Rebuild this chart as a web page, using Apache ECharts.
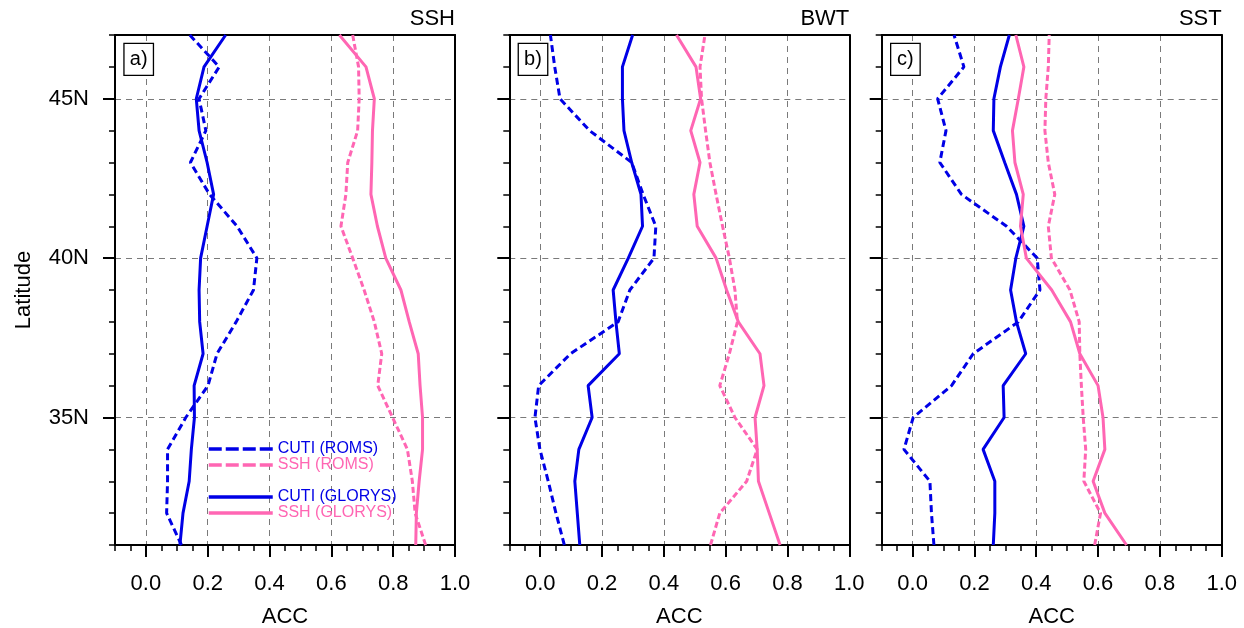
<!DOCTYPE html>
<html style="height: 100%">
<head>
<meta charset="utf-8">
</head>
<body style="height: 100%; margin: 0">
<div id="container" style="width: 1244px; height: 628px"></div>
<script type="text/javascript" src="https://cdn.jsdelivr.net/npm/echarts@6/dist/echarts.min.js"></script>
<script type="text/javascript">
// latitude of each point, south to north
var lats = [31, 32, 33, 34, 35, 36, 37, 38, 39, 40, 41, 42, 43, 44, 45, 46, 47];
var accTicks = [0, 0.2, 0.4, 0.6, 0.8, 1.0];
var latTicks = [35, 40, 45];

// a) SSH
var cutiRomsA   = [0.115, 0.067, 0.070, 0.070, 0.129, 0.201, 0.230, 0.292, 0.348, 0.359, 0.295, 0.206, 0.144, 0.194, 0.172, 0.237, 0.142];
var cutiGlorysA = [0.110, 0.120, 0.140, 0.147, 0.157, 0.156, 0.185, 0.174, 0.172, 0.177, 0.198, 0.219, 0.198, 0.172, 0.163, 0.188, 0.258];
var sshRomsA    = [0.905, 0.871, 0.862, 0.846, 0.798, 0.750, 0.763, 0.739, 0.706, 0.669, 0.631, 0.647, 0.653, 0.685, 0.690, 0.688, 0.669];
var sshGlorysA  = [0.873, 0.875, 0.884, 0.895, 0.895, 0.887, 0.881, 0.852, 0.825, 0.776, 0.749, 0.728, 0.731, 0.733, 0.739, 0.712, 0.626];

// b) BWT
var cutiRomsB   = [0.078, 0.051, 0.026, -0.001, -0.017, -0.005, 0.098, 0.252, 0.290, 0.368, 0.374, 0.333, 0.296, 0.160, 0.064, 0.047, 0.033];
var cutiGlorysB = [0.128, 0.120, 0.112, 0.125, 0.168, 0.155, 0.256, 0.245, 0.236, 0.285, 0.331, 0.326, 0.296, 0.271, 0.266, 0.266, 0.299];
var bwtRomsB    = [0.551, 0.581, 0.668, 0.702, 0.630, 0.581, 0.612, 0.638, 0.630, 0.612, 0.590, 0.569, 0.549, 0.535, 0.522, 0.517, 0.533];
var bwtGlorysB  = [0.776, 0.741, 0.706, 0.702, 0.695, 0.724, 0.711, 0.641, 0.603, 0.569, 0.508, 0.497, 0.517, 0.487, 0.519, 0.504, 0.441];

// c) SST
var cutiRomsC   = [0.069, 0.061, 0.056, -0.028, 0.002, 0.126, 0.196, 0.342, 0.412, 0.403, 0.304, 0.158, 0.088, 0.108, 0.081, 0.166, 0.134];
var cutiGlorysC = [0.261, 0.266, 0.266, 0.228, 0.296, 0.293, 0.366, 0.336, 0.317, 0.334, 0.360, 0.336, 0.298, 0.261, 0.263, 0.284, 0.313];
var sstRomsC    = [0.589, 0.608, 0.554, 0.560, 0.552, 0.546, 0.541, 0.539, 0.509, 0.449, 0.439, 0.460, 0.439, 0.428, 0.431, 0.439, 0.442];
var sstGlorysC  = [0.692, 0.622, 0.584, 0.622, 0.616, 0.600, 0.541, 0.511, 0.450, 0.368, 0.349, 0.358, 0.331, 0.323, 0.342, 0.360, 0.334];

var blue = '#0000e6';
var pink = '#ff66b3';
var font = '"Liberation Sans", Helvetica, Arial, sans-serif';

var panels = [
    {left: 115,   tag: 'a)', name: 'SSH', cr: cutiRomsA, cg: cutiGlorysA, vr: sshRomsA, vg: sshGlorysA},
    {left: 509.3, tag: 'b)', name: 'BWT', cr: cutiRomsB, cg: cutiGlorysB, vr: bwtRomsB, vg: bwtGlorysB},
    {left: 881.7, tag: 'c)', name: 'SST', cr: cutiRomsC, cg: cutiGlorysC, vr: sstRomsC, vg: sstGlorysC}
];
var panelW = 340, panelTop = 35, panelH = 510;

function pairs(vals) {
    return vals.map(function (v, i) { return [v, lats[i]]; });
}

var frame = {show: true, onZero: false, lineStyle: {color: '#000', width: 2}};
var grid = [], xAxis = [], yAxis = [], series = [], title = [], graphic = [];

panels.forEach(function (p, i) {
    grid.push({left: p.left, top: panelTop, width: panelW, height: panelH, show: false,
               containLabel: false, outerBoundsMode: 'none'});

    // minor ticks + bottom frame
    xAxis.push({
        type: 'value', gridIndex: i, min: -0.1, max: 1.0, interval: 0.05, position: 'bottom',
        axisLine: frame,
        axisTick: {show: true, inside: false, length: 6, lineStyle: {color: '#000', width: 1.5}},
        axisLabel: {show: false}, splitLine: {show: false}
    });
    // major ticks, labels, grid lines
    xAxis.push({
        type: 'value', gridIndex: i, min: -0.1, max: 1.0, position: 'bottom',
        name: 'ACC', nameLocation: 'middle', nameGap: 61,
        nameTextStyle: {fontSize: 22, color: '#000', fontFamily: font},
        axisLine: {show: false, onZero: false},
        axisTick: {show: true, customValues: accTicks, length: 12, lineStyle: {color: '#000', width: 2}},
        axisLabel: {show: true, customValues: accTicks, margin: 28, fontSize: 22, color: '#000', fontFamily: font,
            formatter: function (v) { return v.toFixed(1); }},
        splitLine: {show: true, showMaxLine: false, lineStyle: {color: '#7a7a7a', width: 1, type: [6, 5]}}
    });
    // top frame
    xAxis.push({
        type: 'value', gridIndex: i, min: -0.1, max: 1.0, position: 'top',
        axisLine: frame,
        axisTick: {show: false}, axisLabel: {show: false}, splitLine: {show: false}
    });

    yAxis.push({
        type: 'value', gridIndex: i, min: 31, max: 47, interval: 1, position: 'left',
        axisLine: frame,
        axisTick: {show: true, inside: false, length: 6, lineStyle: {color: '#000', width: 1.5}},
        axisLabel: {show: false}, splitLine: {show: false}
    });
    yAxis.push({
        type: 'value', gridIndex: i, min: 31, max: 47, position: 'left',
        name: i === 0 ? 'Latitude' : '', nameLocation: 'middle', nameGap: 80,
        nameTextStyle: {fontSize: 22, color: '#000', fontFamily: font},
        axisLine: {show: false, onZero: false},
        axisTick: {show: true, customValues: latTicks, length: 12, lineStyle: {color: '#000', width: 2}},
        axisLabel: {show: i === 0, customValues: latTicks, margin: 26, fontSize: 22, color: '#000', fontFamily: font,
            formatter: function (v) { return v + 'N'; }},
        splitLine: {show: true, lineStyle: {color: '#7a7a7a', width: 1, type: [6, 5]}}
    });
    yAxis.push({
        type: 'value', gridIndex: i, min: 31, max: 47, position: 'right',
        axisLine: frame,
        axisTick: {show: false}, axisLabel: {show: false}, splitLine: {show: false}
    });

    var sfx = i === 0 ? '' : ' ' + p.tag;
    var defs = [
        ['CUTI (ROMS)', p.cr, blue, [7, 4]],
        [p.name + ' (ROMS)', p.vr, pink, [6, 3]],
        ['CUTI (GLORYS)', p.cg, blue, 'solid'],
        [p.name + ' (GLORYS)', p.vg, pink, 'solid']
    ];
    defs.forEach(function (d) {
        series.push({
            name: d[0] + sfx, type: 'line', xAxisIndex: i * 3, yAxisIndex: i * 3,
            data: pairs(d[1]), symbol: 'none', smooth: false, animation: false,
            lineStyle: {color: d[2], width: 3, type: d[3]}, itemStyle: {color: d[2]}
        });
    });

    title.push({
        text: p.name, right: 1244 - (p.left + panelW), top: 8, padding: 0,
        textStyle: {fontSize: 22, fontWeight: 'normal', color: '#000', fontFamily: font}
    });

    // boxed panel tag
    graphic.push({
        type: 'group', left: p.left + 8.3, top: 42.7, z: 100,
        children: [
            {type: 'rect', shape: {x: 0, y: 0, width: 29.5, height: 32}, z: 100,
             style: {fill: '#fff', stroke: '#000', lineWidth: 1.3}},
            {type: 'text', x: 14.75, y: 16, z: 101,
             style: {text: p.tag, font: '20px ' + font, fill: '#000', align: 'center', verticalAlign: 'middle'}}
        ]
    });
});

function legendBlock(top, names, colors, dash) {
    return {
        left: 207, top: top, orient: 'vertical', padding: 0, itemGap: 0,
        itemWidth: 64, itemHeight: 16, selectedMode: false,
        itemStyle: {opacity: 0},
        textStyle: {fontSize: 16, lineHeight: 16, fontFamily: font},
        data: names.map(function (n, k) {
            return {name: n, textStyle: {color: colors[k]}, lineStyle: {width: 3.5, type: dash}};
        })
    };
}

var option = {
    backgroundColor: '#fff',
    animation: false,
    title: title,
    graphic: graphic,
    grid: grid,
    xAxis: xAxis,
    yAxis: yAxis,
    legend: [
        legendBlock(441, ['CUTI (ROMS)', 'SSH (ROMS)'], [blue, pink], [13, 4]),
        legendBlock(489, ['CUTI (GLORYS)', 'SSH (GLORYS)'], [blue, pink], 'solid')
    ],
    series: series
};

var myChart = echarts.init(document.getElementById('container'));
myChart.setOption(option);
</script>
</body>
</html>
